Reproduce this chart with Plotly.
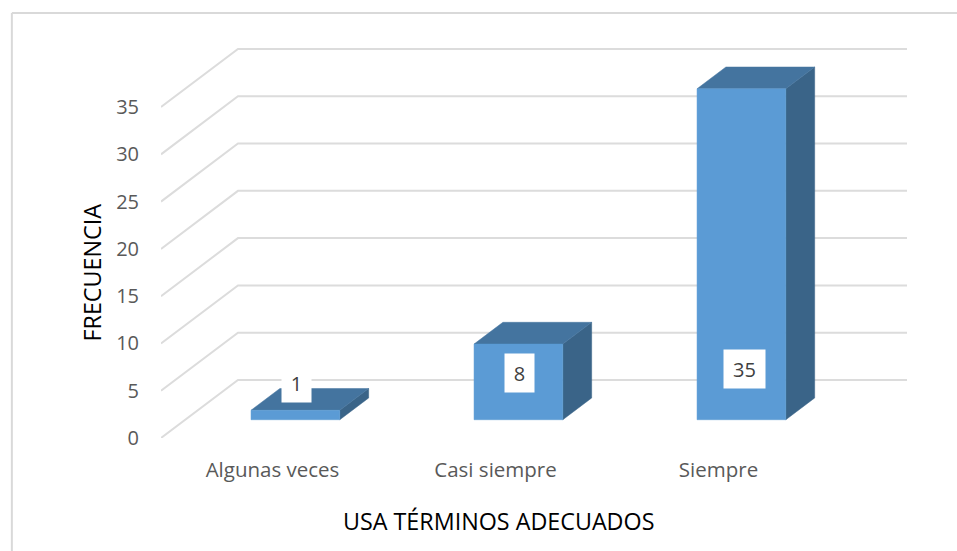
import plotly.graph_objects as go

# --- data ---
categories = ["Algunas veces", "Casi siempre", "Siempre"]
frequencies = [1, 8, 35]
y_ticks = [0, 5, 10, 15, 20, 25, 30, 35]
x_title = "USA TÉRMINOS ADECUADOS"
y_title = "FRECUENCIA"

# --- style / geometry of the oblique 3-D projection ---
W, H = 957, 551
PL, PR, PT, PB = 160.7, 910.0, 42.0, 437.7   # plot area including the depth of the floor
FRONT_R, FRONT_T = 830.0, 107.0              # right and top of the front plane
CAT_PX = (FRONT_R - PL) / 3
VAL_PX = (PB - FRONT_T) / 35
DEPTH_X = 77 / CAT_PX      # category units for full floor depth
DEPTH_Y = 58 / VAL_PX      # value units for full floor depth
BAR_W = 0.398
BAR_SHIFT = -0.006
D_FRONT, D_BACK = 0.315, 0.69
C_FRONT, C_TOP, C_SIDE = "#5B9BD5", "#44749F", "#3A6488"
GRID = "#DCDCDC"
LABEL_Y = [5.79, 6.85, 7.27]


def px_x(p):
    return (p - PL) / (PR - PL)


def px_y(p):
    return (PB - p) / (PB - PT)


def proj(x, v, d):
    return x + d * DEPTH_X, v + d * DEPTH_Y


def poly(points, color):
    xs, ys = zip(*[proj(*p) for p in points + points[:1]])
    return go.Scatter(x=xs, y=ys, mode="lines", fill="toself", fillcolor=color,
                      line=dict(width=0.5, color=color), hoverinfo="skip",
                      showlegend=False, cliponaxis=False)


fig = go.Figure()

# gridlines: front-left corner -> back-left corner -> back-right corner
for t in y_ticks:
    xs, ys = zip(*[proj(-0.5, t, 0), proj(-0.5, t, 1), proj(2.5, t, 1)])
    fig.add_trace(go.Scatter(x=xs, y=ys, mode="lines", line=dict(color=GRID, width=2),
                             hoverinfo="skip", showlegend=False, cliponaxis=False))

annotations = []
for i, v in enumerate(frequencies):
    c = i + BAR_SHIFT
    x0, x1 = c - BAR_W / 2, c + BAR_W / 2
    fig.add_trace(poly([(x1, 0, D_FRONT), (x1, 0, D_BACK), (x1, v, D_BACK), (x1, v, D_FRONT)], C_SIDE))
    fig.add_trace(poly([(x0, v, D_FRONT), (x1, v, D_FRONT), (x1, v, D_BACK), (x0, v, D_BACK)], C_TOP))
    fig.add_trace(poly([(x0, 0, D_FRONT), (x1, 0, D_FRONT), (x1, v, D_FRONT), (x0, v, D_FRONT)], C_FRONT))
    lx, _ = proj(i, 0, D_FRONT)
    annotations.append(dict(x=lx, y=LABEL_Y[i], xref="x", yref="y", text=str(v), showarrow=False,
                            bgcolor="white", width=27 if v < 10 else 39, height=36, align="center",
                            valign="middle", xshift=0 if v < 10 else 2,
                            font=dict(family="Open Sans", size=20, color="#404040")))

annotations.append(dict(x=px_x(498.5), y=px_y(521), xref="paper", yref="paper", text=x_title,
                        showarrow=False, xanchor="center", yanchor="middle",
                        font=dict(family="Open Sans", size=23.3, color="#000000")))
annotations.append(dict(x=px_x(92), y=px_y(272), xref="paper", yref="paper", text=y_title,
                        showarrow=False, textangle=-90, xanchor="center", yanchor="middle",
                        font=dict(family="Open Sans", size=23.3, color="#000000")))

fig.update_layout(
    width=W, height=H, autosize=False,
    margin=dict(l=PL, r=W - PR, t=PT, b=H - PB, pad=0),
    paper_bgcolor="white", plot_bgcolor="white",
    font=dict(family="Open Sans", color="#595959"),
    annotations=annotations,
    shapes=[
        dict(type="line", xref="paper", yref="paper",
             x0=px_x(11.5), x1=px_x(11.5), y0=px_y(13), y1=px_y(H),
             line=dict(color="#D9D9D9", width=2)),
        dict(type="line", xref="paper", yref="paper",
             x0=px_x(11.5), x1=px_x(W), y0=px_y(13), y1=px_y(13),
             line=dict(color="#D9D9D9", width=2)),
    ],
    xaxis=dict(range=[-0.5, -0.5 + (PR - PL) / CAT_PX], tickvals=[0, 1, 2], ticktext=categories,
               showgrid=False, zeroline=False, showline=False, ticks="", ticklabelstandoff=17,
               tickfont=dict(family="Open Sans", size=20.5, color="#595959")),
    yaxis=dict(range=[0, (PB - PT) / VAL_PX], tickvals=y_ticks, showgrid=False, zeroline=False,
               showline=False, ticks="", ticklabelstandoff=21,
               tickfont=dict(family="Open Sans", size=20, color="#595959")),
)

fig.write_html("out.html", config=dict(displayModeBar=False),
               post_script="document.body.style.margin='0';document.body.style.overflow='hidden';")
